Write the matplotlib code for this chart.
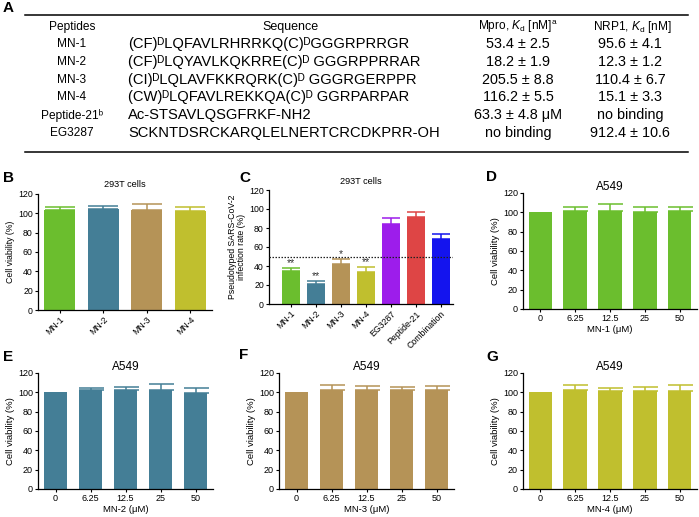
import matplotlib
matplotlib.use("Agg")

import matplotlib.pyplot as plt
from matplotlib.lines import Line2D

plt.rcParams["font.family"] = ["Liberation Sans", "DejaVu Sans"]
plt.rcParams["mathtext.fontset"] = "custom"
plt.rcParams["mathtext.rm"] = "Liberation Sans"
plt.rcParams["mathtext.it"] = "Liberation Sans:italic"
plt.rcParams["mathtext.bf"] = "Liberation Sans:bold"

W, H = 699, 517

# --- Panel A table ---------------------------------------------------------
table_names = ["MN-1", "MN-2", "MN-3", "MN-4", "Peptide-21ᵇ", "EG3287"]
table_seqs = [
    "(CF)ᴰLQFAVLRHRRKQ(C)ᴰGGGRPRRGR",
    "(CF)ᴰLQYAVLKQKRRE(C)ᴰ GGGRPPRRAR",
    "(CI)ᴰLQLAVFKKRQRK(C)ᴰ GGGRGERPPR",
    "(CW)ᴰLQFAVLREKKQA(C)ᴰ GGRPARPAR",
    "Ac-STSAVLQSGFRKF-NH2",
    "SCKNTDSRCKARQLELNERTCRCDKPRR-OH",
]
table_mpro = ["53.4 ± 2.5", "18.2 ± 1.9", "205.5 ± 8.8", "116.2 ± 5.5",
              "63.3 ± 4.8 μM", "no binding"]
table_nrp1 = ["95.6 ± 4.1", "12.3 ± 1.2", "110.4 ± 6.7", "15.1 ± 3.3",
              "no binding", "912.4 ± 10.6"]

# --- Panels B-G data -------------------------------------------------------
peptides = ["MN-1", "MN-2", "MN-3", "MN-4"]
viab_293t = [103.0, 104.8, 103.8, 102.4]
viab_293t_err = [3.5, 3.2, 5.9, 4.1]

infection_labels = ["MN-1", "MN-2", "MN-3", "MN-4", "EG3287", "Peptide-21", "Combination"]
infection = [35.0, 21.3, 42.0, 34.0, 84.0, 92.0, 68.0]
infection_err = [2.8, 3.2, 5.5, 4.5, 7.0, 5.0, 6.0]
infection_sig = ["**", "**", "*", "**", "", "", ""]
threshold = 50

conc_labels = ["0", "6.25", "12.5", "25", "50"]
a549_mn1 = [100.0, 101.4, 101.7, 100.7, 101.4]
a549_mn1_err = [0, 4.6, 6.9, 5.3, 4.6]
a549_mn2 = [100.0, 102.0, 102.8, 102.0, 99.5]
a549_mn2_err = [0, 3.0, 3.2, 6.3, 4.5]
a549_mn3 = [100.0, 102.0, 102.4, 102.8, 102.4]
a549_mn3_err = [0, 5.6, 4.2, 2.7, 3.8]
a549_mn4 = [100.0, 102.0, 101.4, 101.8, 101.8]
a549_mn4_err = [0, 5.3, 2.9, 3.7, 5.5]

COLORS = {"MN-1": "#6bbe2e", "MN-2": "#447e96", "MN-3": "#b59357",
          "MN-4": "#c0bf2e", "EG3287": "#9d1deb", "Peptide-21": "#de4545",
          "Combination": "#1414ee"}


def px_axes(fig, left, right, top, bottom):
    """Axes placed by pixel edges of the 699x517 canvas."""
    return fig.add_axes([left / W, 1 - bottom / H, (right - left) / W, (bottom - top) / H])


def style_axis(ax, tick_size):
    for side in ("top", "right"):
        ax.spines[side].set_visible(False)
    for side in ("left", "bottom"):
        ax.spines[side].set_linewidth(0.9)
    ax.set_ylim(0, 120)
    ax.set_yticks(range(0, 121, 20))
    ax.tick_params(axis="both", direction="out", length=2.2, width=0.8,
                   labelsize=tick_size, pad=1.5)


def bars(ax, values, errs, colors, width, capsize):
    x = list(range(len(values)))
    ax.bar(x, values, width=width, color=colors, edgecolor="none", zorder=2)
    for xi, v, e, c in zip(x, values, errs, colors):
        if e > 0:
            ax.errorbar(xi, v, yerr=[[0], [e]], fmt="none", ecolor=c,
                        elinewidth=1.1, capsize=capsize, capthick=1.1, zorder=3)
    return x


def panel_letter(fig, x, y, letter):
    fig.text(x / W, 1 - y / H, letter, fontsize=11, fontweight="bold",
             ha="left", va="center")


fig = plt.figure(figsize=(6.99, 5.17), dpi=100)

# ---------------------------------------------------------------------------
# A: table
# ---------------------------------------------------------------------------
panel_letter(fig, 3, 8, "A")
fig.add_artist(Line2D([25 / W, 688 / W], [1 - 15 / H] * 2, color="black", lw=1.1))
fig.add_artist(Line2D([25 / W, 688 / W], [1 - 152 / H] * 2, color="black", lw=1.1))

fs_head = 8.6
fs_body = 10.4
hy = 27
fig.text(72 / W, 1 - hy / H, "Peptides", fontsize=fs_head, ha="center", va="center")
fig.text(290 / W, 1 - hy / H, "Sequence", fontsize=fs_head + 0.4, ha="center", va="center")
fig.text(518 / W, 1 - hy / H, r"Mpro, $K_{\mathrm{d}}$ [nM]$^{\mathrm{a}}$",
         fontsize=fs_head, ha="center", va="center")
fig.text(632 / W, 1 - hy / H, r"NRP1, $K_{\mathrm{d}}$ [nM]",
         fontsize=fs_head, ha="center", va="center")

row_y = [44, 62, 80, 97, 115, 133]
for y, name, seq, mp, nr in zip(row_y, table_names, table_seqs, table_mpro, table_nrp1):
    fig.text(72 / W, 1 - y / H, name, fontsize=fs_head, ha="center", va="center")
    fig.text(128 / W, 1 - y / H, seq, fontsize=fs_body + 0.2, ha="left", va="center")
    fig.text(518 / W, 1 - y / H, mp, fontsize=fs_body, ha="center", va="center")
    fig.text(630 / W, 1 - y / H, nr, fontsize=fs_body, ha="center", va="center")

# ---------------------------------------------------------------------------
# B: 293T viability
# ---------------------------------------------------------------------------
panel_letter(fig, 3, 178, "B")
ax = px_axes(fig, 38, 212, 194, 310)
x = bars(ax, viab_293t, viab_293t_err, [COLORS[p] for p in peptides], 0.72, 10.5)
ax.set_xlim(-0.5, len(peptides) - 0.5)
ax.set_xticks(x)
ax.set_xticklabels(peptides, rotation=45, ha="right", rotation_mode="anchor")
style_axis(ax, 6.3)
ax.set_ylabel("Cell viability (%)", fontsize=6.3, labelpad=2)
ax.set_title("293T cells", fontsize=6.6, pad=5)

# ---------------------------------------------------------------------------
# C: pseudovirus infection
# ---------------------------------------------------------------------------
panel_letter(fig, 239, 178, "C")
ax = px_axes(fig, 269, 453, 190, 304)
x = bars(ax, infection, infection_err, [COLORS[p] for p in infection_labels], 0.72, 6.5)
ax.set_xlim(-0.88, len(infection) - 0.5)
ax.axhline(threshold, color="#222222", lw=0.9, ls=(0, (1.2, 1.2)), zorder=4)
for xi, v, e, s in zip(x, infection, infection_err, infection_sig):
    if s:
        ax.text(xi, v + e, s, fontsize=7.5, ha="center", va="bottom", color="#333333")
ax.set_xticks(x)
ax.set_xticklabels(infection_labels, rotation=45, ha="right", rotation_mode="anchor")
style_axis(ax, 6.3)
ax.set_ylabel("Pseudotyped SARS-CoV-2\ninfection rate (%)", fontsize=6.3,
              labelpad=2, linespacing=1.1)
ax.set_title("293T cells", fontsize=6.6, pad=4)

# ---------------------------------------------------------------------------
# D-G: A549 viability
# ---------------------------------------------------------------------------
a549_panels = [
    ("D", (486, 177), (523, 697, 193, 309), a549_mn1, a549_mn1_err, "MN-1"),
    ("E", (3, 357), (38, 213, 373, 489), a549_mn2, a549_mn2_err, "MN-2"),
    ("F", (239, 355), (279, 454, 373, 489), a549_mn3, a549_mn3_err, "MN-3"),
    ("G", (486, 357), (523, 697, 373, 489), a549_mn4, a549_mn4_err, "MN-4"),
]
for letter, (lx, ly), box, vals, errs, pep in a549_panels:
    panel_letter(fig, lx, ly, letter)
    ax = px_axes(fig, *box)
    x = bars(ax, vals, errs, [COLORS[pep]] * len(vals), 0.68, 9)
    ax.set_xlim(-0.5, len(vals) - 0.5)
    ax.set_xticks(x)
    ax.set_xticklabels(conc_labels)
    style_axis(ax, 6.5)
    ax.set_ylabel("Cell viability (%)", fontsize=6.8, labelpad=2)
    ax.set_xlabel(f"{pep} (μM)", fontsize=6.8, labelpad=1.5)
    ax.set_title("A549", fontsize=8.5, pad=2)

fig.savefig("out.png", dpi=100)
